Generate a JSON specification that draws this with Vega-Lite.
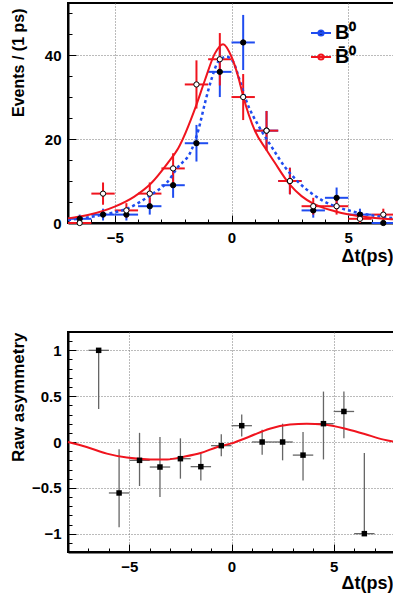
{
  "$schema": "https://vega.github.io/schema/vega-lite/v6.json",
  "padding": {"left": 8, "top": 2, "right": 0, "bottom": 0},
  "background": "white",
  "spacing": 65,
  "config": {
    "view": {"stroke": "black", "strokeWidth": 2},
    "font": "Liberation Sans",
    "axis": {
      "labelFont": "Liberation Sans", "labelFontWeight": "bold", "labelFontSize": 15, "labelColor": "black",
      "titleFont": "Liberation Sans", "titleFontWeight": "bold", "titleFontSize": 16, "titleColor": "black",
      "domainColor": "black", "domainWidth": 2, "tickColor": "black", "tickWidth": 1,
      "gridColor": "#777777", "gridDash": [1, 2], "gridWidth": 1, "labelFlush": false, "labelOverlap": false
    }
  },
  "datasets": {
    "evt": [
      {"s": "B⁰", "t": -6.5, "tlo": -7, "thi": -6, "n": 1, "lo": 0, "hi": 2},
      {"s": "B⁰", "t": -5.5, "tlo": -6, "thi": -5, "n": 2, "lo": 0.59, "hi": 3.41},
      {"s": "B⁰", "t": -4.5, "tlo": -5, "thi": -4, "n": 2, "lo": 0.59, "hi": 3.41},
      {"s": "B⁰", "t": -3.5, "tlo": -4, "thi": -3, "n": 4, "lo": 2, "hi": 6},
      {"s": "B⁰", "t": -2.5, "tlo": -3, "thi": -2, "n": 9, "lo": 6, "hi": 12},
      {"s": "B⁰", "t": -1.5, "tlo": -2, "thi": -1, "n": 19, "lo": 14.64, "hi": 23.36},
      {"s": "B⁰", "t": -0.5, "tlo": -1, "thi": 0, "n": 36, "lo": 30, "hi": 42},
      {"s": "B⁰", "t": 0.5, "tlo": 0, "thi": 1, "n": 43, "lo": 36.44, "hi": 49.56},
      {"s": "B⁰", "t": 1.5, "tlo": 1, "thi": 2, "n": 22, "lo": 17.31, "hi": 26.69},
      {"s": "B⁰", "t": 2.5, "tlo": 2, "thi": 3, "n": 10, "lo": 6.84, "hi": 13.16},
      {"s": "B⁰", "t": 3.5, "tlo": 3, "thi": 4, "n": 3, "lo": 1.27, "hi": 4.73},
      {"s": "B⁰", "t": 4.5, "tlo": 4, "thi": 5, "n": 6, "lo": 3.55, "hi": 8.45},
      {"s": "B⁰", "t": 5.5, "tlo": 5, "thi": 6, "n": 2, "lo": 0.59, "hi": 3.41},
      {"s": "B⁰", "t": 6.5, "tlo": 6, "thi": 7, "n": 0, "lo": 0, "hi": 0},
      {"s": "B̄⁰", "t": -6.5, "tlo": -7, "thi": -6, "n": 0, "lo": 0, "hi": 0},
      {"s": "B̄⁰", "t": -5.5, "tlo": -6, "thi": -5, "n": 7, "lo": 4.35, "hi": 9.65},
      {"s": "B̄⁰", "t": -4.5, "tlo": -5, "thi": -4, "n": 3, "lo": 1.27, "hi": 4.73},
      {"s": "B̄⁰", "t": -3.5, "tlo": -4, "thi": -3, "n": 7, "lo": 4.35, "hi": 9.65},
      {"s": "B̄⁰", "t": -2.5, "tlo": -3, "thi": -2, "n": 13, "lo": 9.39, "hi": 16.61},
      {"s": "B̄⁰", "t": -1.5, "tlo": -2, "thi": -1, "n": 33, "lo": 27.26, "hi": 38.74},
      {"s": "B̄⁰", "t": -0.5, "tlo": -1, "thi": 0, "n": 39, "lo": 32.76, "hi": 45.24},
      {"s": "B̄⁰", "t": 0.5, "tlo": 0, "thi": 1, "n": 30, "lo": 24.52, "hi": 35.48},
      {"s": "B̄⁰", "t": 1.5, "tlo": 1, "thi": 2, "n": 22, "lo": 17.31, "hi": 26.69},
      {"s": "B̄⁰", "t": 2.5, "tlo": 2, "thi": 3, "n": 10, "lo": 6.84, "hi": 13.16},
      {"s": "B̄⁰", "t": 3.5, "tlo": 3, "thi": 4, "n": 4, "lo": 2, "hi": 6},
      {"s": "B̄⁰", "t": 4.5, "tlo": 4, "thi": 5, "n": 4, "lo": 2, "hi": 6},
      {"s": "B̄⁰", "t": 5.5, "tlo": 5, "thi": 6, "n": 1, "lo": 0, "hi": 2},
      {"s": "B̄⁰", "t": 6.5, "tlo": 6, "thi": 7, "n": 2, "lo": 0.59, "hi": 3.41}
    ],
    "fitBbar": [
      {"t": -7, "y": 1.1}, {"t": -6.15, "y": 1.9}, {"t": -5, "y": 3.9}, {"t": -4.16, "y": 6.3},
      {"t": -3.45, "y": 9.4}, {"t": -2.74, "y": 14.2}, {"t": -2.28, "y": 17.8}, {"t": -1.53, "y": 27.7},
      {"t": -1.14, "y": 34}, {"t": -0.71, "y": 40.4}, {"t": -0.36, "y": 42.6}, {"t": 0, "y": 39.6},
      {"t": 0.29, "y": 34.8}, {"t": 0.5, "y": 30.2}, {"t": 1.0, "y": 22}, {"t": 1.5, "y": 17.4},
      {"t": 1.85, "y": 14.4}, {"t": 2.49, "y": 9.2}, {"t": 3.0, "y": 6.4}, {"t": 3.5, "y": 4.6},
      {"t": 4.42, "y": 2.8}, {"t": 5.84, "y": 1.35}, {"t": 6.84, "y": 0.9}, {"t": 7, "y": 0.85}
    ],
    "fitB": [
      {"t": -7, "y": 0.7}, {"t": -5.58, "y": 1.9}, {"t": -4.44, "y": 3.5}, {"t": -3.45, "y": 6.7},
      {"t": -2.74, "y": 9.8}, {"t": -2.31, "y": 13.2}, {"t": -1.71, "y": 17.4}, {"t": -1.42, "y": 22.1},
      {"t": -1.14, "y": 28.5}, {"t": -0.85, "y": 34.4}, {"t": -0.57, "y": 38.4}, {"t": -0.21, "y": 39.6},
      {"t": 0.07, "y": 38.4}, {"t": 0.35, "y": 34}, {"t": 0.64, "y": 29}, {"t": 1.14, "y": 23.3},
      {"t": 1.71, "y": 18.2}, {"t": 2.28, "y": 13.4}, {"t": 2.85, "y": 9.8}, {"t": 3.42, "y": 7.1},
      {"t": 3.85, "y": 5.5}, {"t": 4.7, "y": 3.5}, {"t": 5.56, "y": 2.3}, {"t": 6.4, "y": 1.5}, {"t": 7, "y": 1.1}
    ],
    "asym": [
      {"t": -6.5, "tlo": -7, "thi": -6, "a": 1, "lo": 0.36, "hi": 1},
      {"t": -5.5, "tlo": -6, "thi": -5, "a": -0.556, "lo": -0.93, "hi": -0.08},
      {"t": -4.5, "tlo": -5, "thi": -4, "a": -0.2, "lo": -0.48, "hi": 0.1},
      {"t": -3.5, "tlo": -4, "thi": -3, "a": -0.273, "lo": -0.6, "hi": 0.055},
      {"t": -2.5, "tlo": -3, "thi": -2, "a": -0.182, "lo": -0.4, "hi": 0.04},
      {"t": -1.5, "tlo": -2, "thi": -1, "a": -0.269, "lo": -0.42, "hi": -0.125},
      {"t": -0.5, "tlo": -1, "thi": 0, "a": -0.04, "lo": -0.155, "hi": 0.084},
      {"t": 0.5, "tlo": 0, "thi": 1, "a": 0.178, "lo": 0.06, "hi": 0.3},
      {"t": 1.5, "tlo": 1, "thi": 2, "a": 0, "lo": -0.14, "hi": 0.135},
      {"t": 2.5, "tlo": 2, "thi": 3, "a": 0, "lo": -0.2, "hi": 0.2},
      {"t": 3.5, "tlo": 3, "thi": 4, "a": -0.143, "lo": -0.42, "hi": 0.11},
      {"t": 4.5, "tlo": 4, "thi": 5, "a": 0.2, "lo": -0.19, "hi": 0.55},
      {"t": 5.5, "tlo": 5, "thi": 6, "a": 0.333, "lo": 0.04, "hi": 0.55},
      {"t": 6.5, "tlo": 6, "thi": 7, "a": -1, "lo": -1, "hi": -0.12}
    ],
    "afit": [
      {"t": -8, "y": 0}, {"t": -7.09, "y": -0.054}, {"t": -6.1, "y": -0.127}, {"t": -5.12, "y": -0.17},
      {"t": -3.97, "y": -0.19}, {"t": -3.15, "y": -0.19}, {"t": -2.33, "y": -0.16}, {"t": -1.51, "y": -0.12},
      {"t": -0.69, "y": -0.054}, {"t": 0, "y": -0.015}, {"t": 0.89, "y": 0.06}, {"t": 1.87, "y": 0.145},
      {"t": 2.86, "y": 0.19}, {"t": 3.68, "y": 0.2}, {"t": 4.5, "y": 0.19}, {"t": 5.48, "y": 0.15},
      {"t": 6.47, "y": 0.09}, {"t": 7.45, "y": 0.026}, {"t": 8, "y": 0}
    ]
  },
  "vconcat": [
    {
      "width": 327,
      "height": 220,
      "resolve": {"axis": {"x": "independent", "y": "independent"}},
      "layer": [
        {
          "data": {"name": "evt"},
          "mark": {"type": "rule", "strokeWidth": 2},
          "encoding": {
            "x": {
              "field": "t", "type": "quantitative",
              "scale": {"domain": [-7, 7], "nice": false},
              "axis": {
                "orient": "bottom",
                "values": [-5, 0, 5],
                "tickSize": -8,
                "grid": true,
                "labelPadding": 15,
                "title": "Δt(ps)", "titleFontSize": 18,
                "titleAnchor": "end", "titleAlign": "right", "titleBaseline": "top",
                "titleX": 325, "titleY": 24
              }
            },
            "y": {
              "field": "lo", "type": "quantitative",
              "scale": {"domain": [0, 52.4], "nice": false},
              "axis": {
                "orient": "left",
                "values": [0, 20, 40],
                "tickSize": -8,
                "grid": true,
                "labelPadding": 15,
                "title": "Events / (1 ps)",
                "titleAngle": 270, "titleAlign": "right", "titleBaseline": "middle",
                "titleX": -50, "titleY": 5
              }
            },
            "y2": {"field": "hi"},
            "color": {
              "field": "s", "type": "nominal",
              "scale": {"domain": ["B⁰", "B̄⁰"], "range": ["#1f4cf0", "#f0141e"]},
              "legend": {
                "title": null,
                "orient": "none", "legendX": 242, "legendY": 19,
                "padding": 0,
                "symbolType": "M-1,0H1M0.26,0A0.26,0.26,0,1,1,-0.26,0A0.26,0.26,0,1,1,0.26,0",
                "symbolSize": 400, "symbolStrokeWidth": 2,
                "labelFont": "Liberation Sans", "labelFontWeight": "bold", "labelFontSize": 20,
                "labelColor": "black", "labelOffset": 3, "rowPadding": 3,
                "encode": {"symbols": {"update": {"fill": {"signal": "datum.index === 0 ? 'black' : 'white'"}}}}
              }
            }
          }
        },
        {
          "data": {"name": "evt"},
          "mark": {"type": "rule", "strokeWidth": 2},
          "encoding": {
            "x": {
              "field": "tlo", "type": "quantitative",
              "axis": {"orient": "bottom", "values": [-6, -4, -3, -2, -1, 1, 2, 3, 4, 6], "tickSize": -4, "labels": false, "grid": false, "domain": false, "title": null}
            },
            "x2": {"field": "thi"},
            "y": {
              "field": "n", "type": "quantitative",
              "axis": {"orient": "left", "values": [5, 10, 15, 25, 30, 35, 45, 50], "tickSize": -4, "labels": false, "grid": false, "domain": false, "title": null}
            },
            "color": {"field": "s", "type": "nominal"}
          }
        },
        {
          "data": {"name": "fitB"},
          "mark": {"type": "line", "color": "#1f4cf0", "strokeWidth": 2.5, "strokeDash": [3, 3], "interpolate": "monotone"},
          "encoding": {
            "x": {"field": "t", "type": "quantitative", "axis": null},
            "y": {"field": "y", "type": "quantitative", "axis": null}
          }
        },
        {
          "data": {"name": "fitBbar"},
          "mark": {"type": "line", "color": "#f0141e", "strokeWidth": 2, "interpolate": "monotone"},
          "encoding": {
            "x": {"field": "t", "type": "quantitative", "axis": null},
            "y": {"field": "y", "type": "quantitative", "axis": null}
          }
        },
        {
          "data": {"name": "evt"},
          "mark": {"type": "point", "shape": "circle", "filled": true, "size": 28, "stroke": "black", "strokeWidth": 1, "opacity": 1},
          "encoding": {
            "x": {"field": "t", "type": "quantitative", "axis": null},
            "y": {"field": "n", "type": "quantitative", "axis": null},
            "fill": {"field": "s", "type": "nominal", "scale": {"domain": ["B⁰", "B̄⁰"], "range": ["black", "white"]}, "legend": null}
          }
        },
        {
          "mark": {"type": "text", "text": "Preliminary", "font": "Liberation Serif", "fontSize": 15, "align": "left", "baseline": "middle", "color": "black"},
          "encoding": {
            "x": {"datum": -6.36, "type": "quantitative", "axis": null},
            "y": {"datum": 48.8, "type": "quantitative", "axis": null}
          }
        }
      ]
    },
    {
      "width": 327,
      "height": 220,
      "resolve": {"axis": {"x": "independent", "y": "independent"}},
      "layer": [
        {
          "data": {"name": "asym"},
          "mark": {"type": "rule", "strokeWidth": 1.3, "color": "#666666"},
          "encoding": {
            "x": {
              "field": "t", "type": "quantitative",
              "scale": {"domain": [-8, 8], "nice": false},
              "axis": {
                "orient": "bottom",
                "values": [-5, 0, 5],
                "tickSize": -8,
                "grid": true,
                "labelPadding": 15,
                "title": "Δt(ps)", "titleFontSize": 18,
                "titleAnchor": "end", "titleAlign": "right", "titleBaseline": "top",
                "titleX": 325, "titleY": 22
              }
            },
            "y": {
              "field": "lo", "type": "quantitative",
              "scale": {"domain": [-1.2, 1.2], "nice": false, "zero": false},
              "axis": {
                "orient": "left",
                "values": [-1, -0.5, 0, 0.5, 1],
                "format": "~g",
                "tickSize": -8,
                "grid": true,
                "labelPadding": 15,
                "title": "Raw asymmetry", "titleFontSize": 17,
                "titleAngle": 270, "titleAlign": "right", "titleBaseline": "middle",
                "titleX": -50, "titleY": 0
              }
            },
            "y2": {"field": "hi"}
          }
        },
        {
          "data": {"name": "asym"},
          "mark": {"type": "rule", "strokeWidth": 1.3, "color": "#666666"},
          "encoding": {
            "x": {
              "field": "tlo", "type": "quantitative",
              "axis": {"orient": "bottom", "values": [-7, -6, -4, -3, -2, -1, 1, 2, 3, 4, 6, 7], "tickSize": -4, "labels": false, "grid": false, "domain": false, "title": null}
            },
            "x2": {"field": "thi"},
            "y": {
              "field": "a", "type": "quantitative",
              "axis": {"orient": "left", "values": [-1.1, -0.9, -0.8, -0.7, -0.6, -0.4, -0.3, -0.2, -0.1, 0.1, 0.2, 0.3, 0.4, 0.6, 0.7, 0.8, 0.9, 1.1], "tickSize": -4, "labels": false, "grid": false, "domain": false, "title": null}
            }
          }
        },
        {
          "data": {"name": "afit"},
          "mark": {"type": "line", "color": "#f0141e", "strokeWidth": 2, "interpolate": "monotone"},
          "encoding": {
            "x": {"field": "t", "type": "quantitative", "axis": null},
            "y": {"field": "y", "type": "quantitative", "axis": null}
          }
        },
        {
          "data": {"name": "asym"},
          "mark": {"type": "point", "shape": "square", "filled": true, "size": 30, "color": "black", "opacity": 1},
          "encoding": {
            "x": {"field": "t", "type": "quantitative", "axis": null},
            "y": {"field": "a", "type": "quantitative", "axis": null}
          }
        },
        {
          "mark": {"type": "text", "text": "Preliminary", "font": "Liberation Serif", "fontSize": 15, "align": "left", "baseline": "middle", "color": "black"},
          "encoding": {
            "x": {"datum": 3.74, "type": "quantitative", "axis": null},
            "y": {"datum": 1.05, "type": "quantitative", "axis": null}
          }
        }
      ]
    }
  ]
}
